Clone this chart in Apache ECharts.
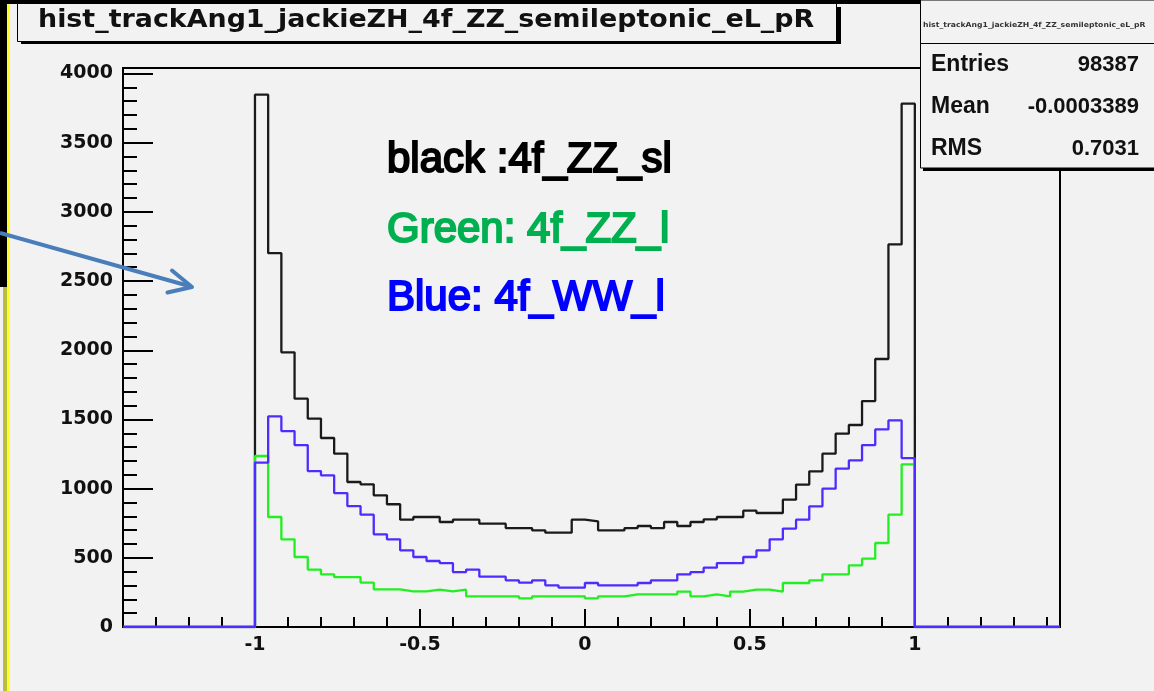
<!DOCTYPE html>
<html>
<head>
<meta charset="utf-8">
<style>
  html, body { margin: 0; padding: 0; background: #f2f2f2; }
  #chart { width: 1154px; height: 691px; }
</style>
<script src="https://cdn.jsdelivr.net/npm/echarts@6/dist/echarts.min.js"></script>
</head>
<body>
<div id="chart"></div>
<script>
// ---- data (50 bins of width 0.04 from -1 to 1) ----
const histTitle = 'hist_trackAng1_jackieZH_4f_ZZ_semileptonic_eL_pR';
const xMin = -1.4, xMax = 1.44;
const binStart = -1, binWidth = 0.04;
const xMajorTicks = [-1, -0.5, 0, 0.5, 1];
const yMajorTicks = [0, 500, 1000, 1500, 2000, 2500, 3000, 3500, 4000];
const yMax = 4040;

const blackZZsl = [3847, 2702, 1985, 1650, 1506, 1366, 1253, 1048, 1031, 952,
                   887, 776, 795, 795, 759, 776, 776, 747, 747, 715,
                   715, 699, 682, 682, 776, 764, 699, 699, 715, 730,
                   715, 759, 730, 759, 778, 795, 795, 841, 824, 824,
                   920, 1029, 1125, 1253, 1397, 1460, 1633, 1937, 2765, 3782];
const greenZZl = [1236, 795, 634, 506, 415, 381, 361, 361, 321, 272,
                  272, 258, 258, 270, 258, 270, 222, 222, 222, 222,
                  207, 222, 222, 222, 222, 207, 222, 222, 236, 236,
                  236, 236, 256, 222, 236, 222, 256, 270, 270, 256,
                  318, 318, 337, 381, 381, 446, 494, 607, 812, 1176];
const blueWWl = [1188, 1522, 1416, 1315, 1127, 1096, 968, 874, 812, 670,
                 634, 554, 506, 477, 462, 397, 415, 364, 364, 337,
                 321, 337, 301, 285, 285, 318, 301, 301, 301, 318,
                 337, 337, 381, 397, 429, 462, 462, 506, 554, 634,
                 711, 776, 872, 1000, 1144, 1204, 1315, 1428, 1493, 1221];

const statsLabels = ['Entries', 'Mean', 'RMS'];
const statsValues = ['98387', '-0.0003389', '0.7031'];
const legendTexts = ['black :4f_ZZ_sl', 'Green: 4f_ZZ_l', 'Blue: 4f_WW_l'];
const legendColors = ['#000000', '#00b050', '#0000ff'];

// build step-histogram outline points
function histPoints(vals) {
  const pts = [[xMin, 0]];
  vals.forEach((v, i) => pts.push([+(binStart + i * binWidth).toFixed(2), v]));
  pts.push([+(binStart + vals.length * binWidth).toFixed(2), 0]);
  pts.push([xMax, 0]);
  return pts;
}

const chart = echarts.init(document.getElementById('chart'), null, { renderer: 'canvas' });

const axisFont = { fontFamily: 'DejaVu Sans', fontWeight: 'bold', fontSize: 19, color: '#111' };

function histSeries(name, vals, color, z) {
  return {
    name, type: 'line', step: 'end', data: histPoints(vals),
    showSymbol: false, symbol: 'none', z,
    lineStyle: { color, width: 2.3 }, xAxisIndex: 0, yAxisIndex: 0,
    emphasis: { disabled: true }
  };
}

const statsY = [65, 107, 149];
const graphics = [
  // top black band and left border decorations
  { type: 'rect', shape: { x: 0, y: 0, width: 1154, height: 4 }, style: { fill: '#000' }, z: 10 },
  { type: 'rect', shape: { x: 0, y: 0, width: 7, height: 287 }, style: { fill: '#000' }, z: 10 },
  { type: 'rect', shape: { x: 3, y: 287, width: 4, height: 404 }, style: { fill: '#b9bc3c' }, z: 10 },
  { type: 'rect', shape: { x: 7, y: 4, width: 3, height: 687 }, style: { fill: '#ffff20' }, z: 10 },
  // title box
  { type: 'rect', shape: { x: 21, y: 7, width: 820, height: 37 }, style: { fill: '#000' }, z: 10 },
  { type: 'rect', shape: { x: 17.5, y: 3.5, width: 819, height: 38 }, style: { fill: '#f2f2f2', stroke: '#000', lineWidth: 1 }, z: 11 },
  { type: 'text', x: 38, y: 21, scaleX: 1.12, originX: 0, originY: 0, z: 12,
    style: { text: histTitle, font: 'bold 24px "DejaVu Sans"', fill: '#111', textAlign: 'left', textVerticalAlign: 'middle' } },
  // stats box
  { type: 'rect', shape: { x: 923, y: 4, width: 240, height: 167 }, style: { fill: '#000' }, z: 10 },
  { type: 'rect', shape: { x: 920.5, y: 0, width: 240, height: 168 }, style: { fill: '#f2f2f2', stroke: '#000', lineWidth: 1 }, z: 11 },
  { type: 'line', shape: { x1: 920.5, y1: 43.5, x2: 1154, y2: 43.5 }, style: { stroke: '#000', lineWidth: 1 }, z: 12 },
  { type: 'text', x: 923, y: 25, scaleX: 1.1, originX: 0, originY: 0, z: 12,
    style: { text: histTitle, font: 'bold 7px "DejaVu Sans"', fill: '#333', textAlign: 'left', textVerticalAlign: 'middle' } },
  // arrow
  { type: 'polyline', shape: { points: [[0, 233], [189, 286]] }, style: { stroke: '#4a7ebb', lineWidth: 4 }, z: 13 },
  { type: 'polyline', shape: { points: [[172, 270.5], [192, 287], [167.5, 292.5]] }, style: { stroke: '#4a7ebb', lineWidth: 4, fill: null, lineJoin: 'round', lineCap: 'round' }, z: 13 }
];
statsLabels.forEach((t, i) => {
  graphics.push({ type: 'text', x: 931, y: statsY[i], z: 12,
    style: { text: t, font: 'bold 23px "Liberation Sans"', fill: '#111', textAlign: 'left', textVerticalAlign: 'middle' } });
  graphics.push({ type: 'text', x: 1139, y: statsY[i], z: 12,
    style: { text: statsValues[i], font: 'bold 22px "Liberation Sans"', fill: '#111', textAlign: 'right', textVerticalAlign: 'middle' } });
});
const legendY = [160, 230, 298];
legendTexts.forEach((t, i) => {
  graphics.push({ type: 'text', x: 387, y: legendY[i], z: 14,
    style: { text: t, font: '42px "Liberation Sans"', fill: legendColors[i], stroke: legendColors[i], lineWidth: 2,
             textAlign: 'left', textVerticalAlign: 'middle' } });
});

const option = {
  animation: false,
  backgroundColor: '#f2f2f2',
  grid: { left: 123, right: 94, top: 68, bottom: 64, show: true, borderColor: '#000', borderWidth: 2, backgroundColor: '#f2f2f2' },
  xAxis: [
    { type: 'value', min: xMin, max: xMax, interval: 0.1, position: 'bottom',
      axisLine: { show: true, onZero: false, lineStyle: { color: '#000', width: 2 } },
      axisTick: { show: true, inside: true, length: 10, lineStyle: { color: '#000', width: 2 } },
      axisLabel: { show: false }, splitLine: { show: false } },
    { type: 'value', min: xMin, max: xMax, position: 'bottom',
      axisLine: { show: false, onZero: false },
      axisTick: { show: true, inside: true, length: 18, customValues: xMajorTicks, lineStyle: { color: '#000', width: 2 } },
      axisLabel: Object.assign({ show: true, margin: 9, customValues: xMajorTicks, formatter: v => String(v) }, axisFont),
      splitLine: { show: false } }
  ],
  yAxis: [
    { type: 'value', min: 0, max: yMax, interval: 100, position: 'left',
      axisLine: { show: true, onZero: false, lineStyle: { color: '#000', width: 2 } },
      axisTick: { show: true, inside: true, length: 14, lineStyle: { color: '#000', width: 2 } },
      axisLabel: { show: false }, splitLine: { show: false } },
    { type: 'value', min: 0, max: yMax, position: 'left',
      axisLine: { show: false, onZero: false },
      axisTick: { show: true, inside: true, length: 30, customValues: yMajorTicks, lineStyle: { color: '#000', width: 2 } },
      axisLabel: Object.assign({ show: true, margin: 10, customValues: yMajorTicks, formatter: v => String(v) }, axisFont),
      splitLine: { show: false } }
  ],
  series: [
    histSeries('4f_ZZ_sl', blackZZsl, '#1a1a1a', 3),
    histSeries('4f_ZZ_l', greenZZl, '#22ee22', 4),
    histSeries('4f_WW_l', blueWWl, '#4f2bff', 5)
  ],
  graphic: { elements: graphics }
};
chart.setOption(option);
</script>
</body>
</html>
